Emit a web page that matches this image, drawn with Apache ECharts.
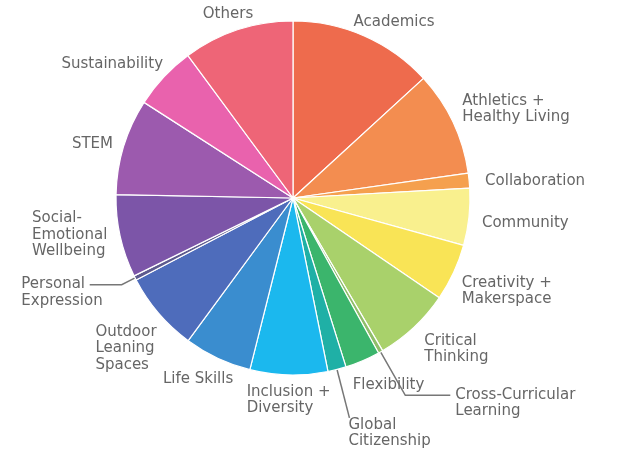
<!DOCTYPE html>
<html>
<head>
<meta charset="utf-8">
<script src="https://cdn.jsdelivr.net/npm/echarts@6/dist/echarts.min.js"></script>
<style>
html,body{margin:0;padding:0;background:#fff;}
#c{width:617px;height:453px;}
</style>
</head>
<body>
<div id="c"></div>
<script>
const categories = ["Academics","Athletics +\nHealthy Living","Collaboration","Community","Creativity +\nMakerspace","Critical\nThinking","Cross-Curricular\nLearning","Flexibility","Global\nCitizenship","Inclusion +\nDiversity","Life Skills","Outdoor\nLeaning\nSpaces","Personal\nExpression","Social-\nEmotional\nWellbeing","STEM","Sustainability","Others"];
const values = [47.5,34.4,4.9,18.7,18.8,25.3,1.5,11.5,6.0,25.5,22.2,26.1,1.5,27.2,31.6,20.9,36.4];
const colors = ["#EE6B4D","#F38D50","#F5A04E","#F9F08E","#F9E456","#A9D16B","#8FBE6A","#3BB56C","#1FB0A6","#1BB8EE","#3A8DCF","#4E6CBB","#5E5A8E","#7C55A8","#9C5AAE","#E962AD","#EE6577"];

// label styling tweaks (style only, per slice index): [dx, dy, alignMode]
const labelNudge = {
  0: [-19, -7, false],
  1: [-3, -10, false],
  2: [3, 1, false],
  3: [0, 5, false],
  4: [-4, 15, false],
  5: [0, 16, false],
  6: [0, 8, false],
  7: [-18, 17, false],
  8: [-6, 15, false],
  9: [-37, 17, 'left'],
  10: [24, 14, false],
  11: [9, 30, 'flip'],
  12: [18, 8, 'flip'],
  13: [0, -3, 'flip'],
  14: [2, 0, false],
  15: [10, -7, false],
  16: [23, -8, false]
};
const lineItems = {
  6: {length: 50, length2: 45},
  8: {length: 50, length2: 0},
  12: {length: 15, length2: 32}
};

const data = categories.map((name, i) => {
  const item = {name: name, value: values[i], itemStyle: {color: colors[i]}};
  if (lineItems[i]) {
    item.labelLine = {show: true, length: lineItems[i].length, length2: lineItems[i].length2, lineStyle: {color: '#777', width: 1.5}};
  }
  return item;
});

const chart = echarts.init(document.getElementById('c'));
chart.setOption({
  animation: false,
  series: [{
    type: 'pie',
    center: [293, 198],
    radius: [0, 177],
    startAngle: 90,
    clockwise: true,
    avoidLabelOverlap: false,
    data: data,
    itemStyle: {borderColor: '#fff', borderWidth: 1.2},
    label: {
      show: true,
      position: 'outside',
      color: '#666',
      fontFamily: 'DejaVu Sans',
      fontSize: 15,
      lineHeight: 16.5,
      formatter: '{b}'
    },
    labelLine: {show: false, length: 8, length2: 0},
    labelLayout: function (p) {
      const n = labelNudge[p.dataIndex];
      const res = {hideOverlap: false, moveOverlap: null};
      if (!n) return res;
      res.dx = n[0];
      res.dy = n[1];
      if (n[2] === 'left') {
        res.align = 'left';
      } else if (n[2] === 'flip') {
        res.align = 'left';
        res.dx = n[0] - p.labelRect.width;
      }
      return res;
    }
  }]
});
</script>
</body>
</html>
